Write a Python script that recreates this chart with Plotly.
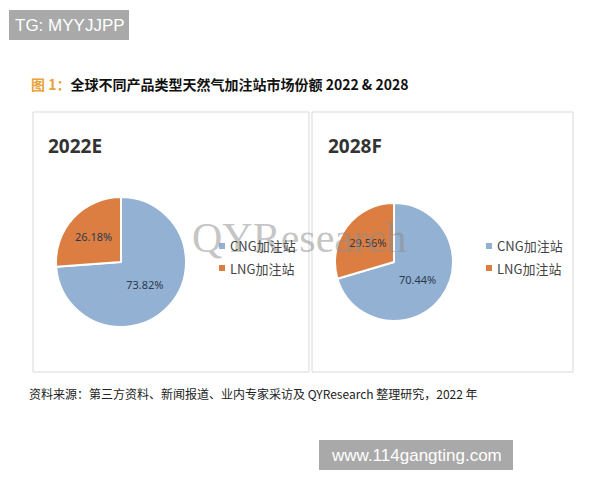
import plotly.graph_objects as go

labels = ["CNG加注站", "LNG加注站"]
share_2022 = [73.82, 26.18]
share_2028 = [70.44, 29.56]
panel_titles = ["2022E", "2028F"]
colors = ["#93B1D3", "#DC7E42"]

W, H = 600, 480

def px(x):
    return x / W

def py(y):
    return 1 - y / H

fig = go.Figure()

common = dict(
    labels=labels,
    sort=False,
    direction="clockwise",
    rotation=0,
    marker=dict(colors=colors, line=dict(color="white", width=2)),
    textinfo="percent",
    texttemplate="%{value:.2f}%",
    textposition="inside",
    insidetextorientation="horizontal",
    textfont=dict(family="Noto Sans", size=11, color="#2b3a4f"),
    hoverinfo="label+percent",
    showlegend=False,
)

fig.add_trace(go.Pie(
    values=share_2022,
    domain=dict(x=[px(56), px(186)], y=[py(327), py(197)]),
    **common,
))
fig.add_trace(go.Pie(
    values=share_2028,
    domain=dict(x=[px(335), px(453)], y=[py(321), py(203)]),
    **common,
))

shapes = [
    dict(type="rect", xref="paper", yref="paper",
         x0=px(33), x1=px(309), y0=py(372), y1=py(112),
         line=dict(color="#d9d9d9", width=1), fillcolor="rgba(0,0,0,0)", layer="below"),
    dict(type="rect", xref="paper", yref="paper",
         x0=px(312), x1=px(573), y0=py(372), y1=py(112),
         line=dict(color="#d9d9d9", width=1), fillcolor="rgba(0,0,0,0)", layer="below"),
    dict(type="rect", xref="paper", yref="paper",
         x0=px(9), x1=px(129), y0=py(40), y1=py(10),
         line=dict(width=0), fillcolor="#a9a9a9"),
    dict(type="rect", xref="paper", yref="paper",
         x0=px(319), x1=px(513), y0=py(470), y1=py(440),
         line=dict(width=0), fillcolor="#a9a9a9"),
]

annotations = [
    dict(text="TG: MYYJJPP", x=px(13), y=py(25), xanchor="left", yanchor="middle",
         showarrow=False, font=dict(family="Liberation Sans", size=17, color="white")),
    dict(text="www.114gangting.com", x=px(416), y=py(455), xanchor="center", yanchor="middle",
         showarrow=False, font=dict(family="Liberation Sans", size=17, color="white")),
    dict(text="<span style='color:#E8A33A'>图 1：</span>全球不同产品类型天然气加注站市场份额 2022 &amp; 2028",
         x=px(29), y=py(84), xanchor="left", yanchor="middle", showarrow=False,
         font=dict(family="Noto Sans CJK SC", size=14, color="#111111", weight="bold")),
    dict(text=panel_titles[0], x=px(46), y=py(146), xanchor="left", yanchor="middle",
         showarrow=False, font=dict(family="Noto Sans", size=19, color="#333333", weight="bold")),
    dict(text=panel_titles[1], x=px(326), y=py(146), xanchor="left", yanchor="middle",
         showarrow=False, font=dict(family="Noto Sans", size=19, color="#333333", weight="bold")),
    dict(text="QYResearch", x=px(299), y=py(238), xanchor="center", yanchor="middle",
         showarrow=False, font=dict(family="Liberation Serif", size=42, color="rgba(140,140,140,0.5)")),
    dict(text="资料来源：第三方资料、新闻报道、业内专家采访及 QYResearch 整理研究，2022 年",
         x=px(27), y=py(393), xanchor="left", yanchor="middle", showarrow=False,
         font=dict(family="Noto Sans CJK SC", size=12, color="#222222")),
]

# manual legends (one per panel)
legend_pos = [(219, 246), (486, 246)]
for lx, ly in legend_pos:
    for i, (lab, col) in enumerate(zip(labels, colors)):
        yy = ly + i * 22
        shapes.append(dict(type="rect", xref="paper", yref="paper",
                           x0=px(lx), x1=px(lx + 6), y0=py(yy + 3), y1=py(yy - 3),
                           line=dict(width=0), fillcolor=col))
        annotations.append(dict(text=lab, x=px(lx + 9), y=py(yy), xanchor="left", yanchor="middle",
                                showarrow=False,
                                font=dict(family="Noto Sans CJK SC", size=13, color="#444444")))

fig.update_layout(
    width=W, height=H,
    margin=dict(l=0, r=0, t=0, b=0),
    paper_bgcolor="white",
    plot_bgcolor="white",
    showlegend=False,
    shapes=shapes,
    annotations=annotations,
)

fig.write_html("out.html", config={"displayModeBar": False},
               post_script="document.body.style.margin='0';document.body.style.padding='0';")
